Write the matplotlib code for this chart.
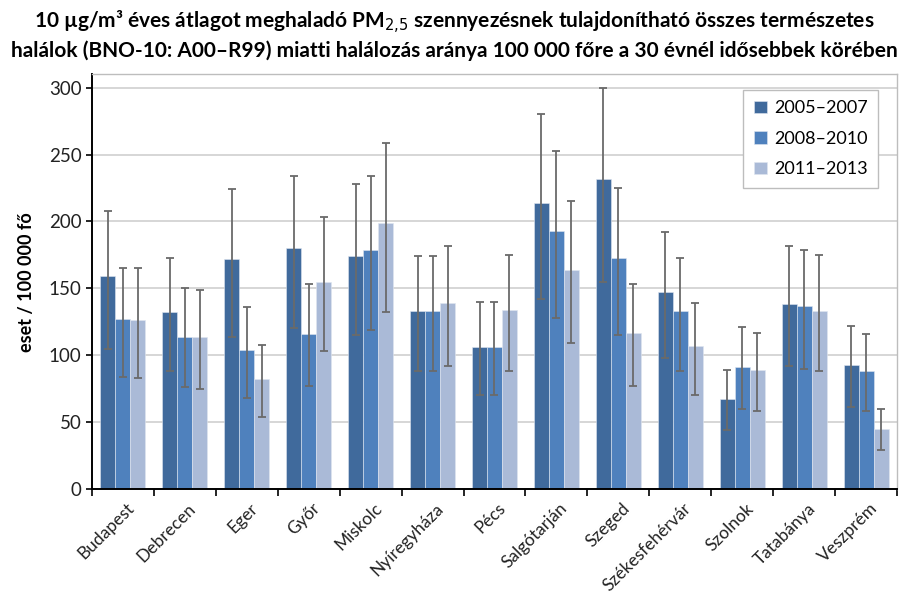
import matplotlib
matplotlib.use("Agg")
import matplotlib.pyplot as plt
import matplotlib.transforms as mtransforms
import numpy as np

cities = ["Budapest", "Debrecen", "Eger", "Győr", "Miskolc", "Nyíregyháza", "Pécs",
          "Salgótarján", "Szeged", "Székesfehérvár", "Szolnok", "Tatabánya", "Veszprém"]
periods = ["2005–2007", "2008–2010", "2011–2013"]

# rate per 100 000 (point estimate) for each period
rate_0507 = [159, 132, 172, 180, 174, 133, 106, 214, 232, 147, 67, 138, 93]
rate_0810 = [127, 114, 104, 116, 179, 133, 106, 193, 173, 133, 91, 137, 88]
rate_1113 = [126, 114, 82, 155, 199, 139, 134, 164, 117, 107, 89, 133, 45]

# confidence interval bounds
low_0507 = [105, 88, 114, 120, 115, 88, 70, 142, 155, 98, 44, 92, 61]
high_0507 = [208, 173, 224, 234, 228, 174, 140, 280, 300, 192, 89, 182, 122]
low_0810 = [84, 76, 68, 77, 119, 88, 70, 128, 115, 88, 60, 90, 58]
high_0810 = [165, 150, 136, 153, 234, 174, 140, 253, 225, 173, 121, 179, 116]
low_1113 = [83, 75, 54, 103, 132, 92, 88, 109, 77, 70, 58, 88, 29]
high_1113 = [165, 149, 108, 203, 259, 182, 175, 215, 153, 139, 117, 175, 60]

series = [
    (rate_0507, low_0507, high_0507, "#406A9C"),
    (rate_0810, low_0810, high_0810, "#4F81BD"),
    (rate_1113, low_1113, high_1113, "#AABAD7"),
]

plt.rcParams["font.family"] = ["Lato", "DejaVu Sans"]

fig = plt.figure(figsize=(9.08, 6.03), dpi=100)
ax = fig.add_axes([0.1013, 0.189, 0.8866, 0.6878])

x = np.arange(len(cities))
w = 0.242
for i, (vals, lo, hi, col) in enumerate(series):
    vals = np.array(vals, float)
    err = np.vstack([vals - np.array(lo), np.array(hi) - vals])
    pos = x + (i - 1) * w
    ax.bar(pos, vals, width=w, color=col, edgecolor="#dfe6f0", linewidth=0.4,
           label=periods[i], zorder=2)
    ax.errorbar(pos, vals, yerr=err, fmt="none", ecolor="#6a6a6a", elinewidth=1.3,
                capsize=3, capthick=1.3, zorder=3)

ax.set_xlim(-0.5, len(cities) - 0.5)
ax.set_ylim(0, 310)
ax.set_yticks(np.arange(0, 301, 50))
ax.tick_params(axis="y", labelsize=13.5, length=4, width=1.2, direction="out",
               colors="black", labelcolor="#222222")
ax.yaxis.grid(True, color="#d0d0d0", linewidth=1.2, zorder=0)
ax.set_axisbelow(True)

# category boundaries carry the ticks, names sit at category centres
ax.set_xticks(np.arange(-0.5, len(cities), 1.0))
ax.set_xticklabels([])
ax.tick_params(axis="x", which="major", length=5, width=1.2, direction="out")
ax.set_xticks(x, minor=True)
ax.set_xticklabels(cities, minor=True, rotation=45, ha="right", va="top",
                   rotation_mode="anchor", fontsize=12.5, color="#222222")
ax.tick_params(axis="x", which="minor", length=0, pad=8)
shift = mtransforms.ScaledTranslation(0.03, 0, fig.dpi_scale_trans)
for lab in ax.get_xticklabels(minor=True):
    lab.set_transform(lab.get_transform() + shift)

for side in ("top", "right"):
    ax.spines[side].set_color("#bdbdbd")
    ax.spines[side].set_linewidth(1.0)
for side in ("left", "bottom"):
    ax.spines[side].set_color("black")
    ax.spines[side].set_linewidth(1.4)

ax.set_ylabel("eset / 100 000 fő", fontsize=13, fontweight="bold", labelpad=10)

leg = ax.legend(loc="upper right", bbox_to_anchor=(0.988, 0.985), fontsize=13,
                frameon=True, fancybox=False, edgecolor="#bdbdbd", framealpha=1,
                handlelength=0.7, handleheight=0.7, handletextpad=0.4,
                labelspacing=0.8, borderpad=0.6)
leg.get_frame().set_linewidth(1.0)

fig.text(0.5, 0.985,
         "10 µg/m³ éves átlagot meghaladó PM$_{2{,}5}$ szennyezésnek tulajdonítható összes természetes\n"
         "halálok (BNO-10: A00–R99) miatti halálozás aránya 100 000 főre a 30 évnél idősebbek körében",
         ha="center", va="top", fontsize=15, fontweight="bold", linespacing=1.25)

fig.savefig("out.png", dpi=100)
